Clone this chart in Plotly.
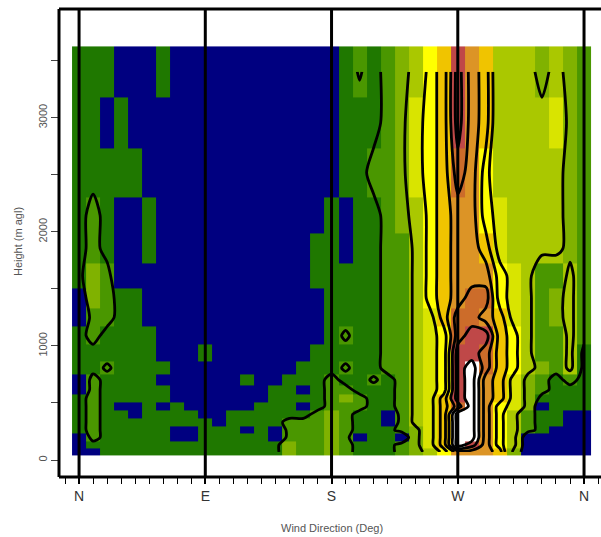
import plotly.graph_objects as go

# ---- data -------------------------------------------------------------
directions = list(range(0, 361, 10))            # bin centres (deg)
height_edges = [3625, 3180, 2730, 2305, 1985, 1725, 1505, 1330, 1170, 1010,
                865, 750, 655, 575, 505, 435, 365, 295, 230, 165, 100, 40]  # top -> bottom
tick_dirs = [0, 90, 180, 270, 360]
tick_text = ["N", "E", "S", "W", "N"]
height_ticks = [0, 1000, 2000, 3000]

# frequency class per cell, rows listed top (highest) -> bottom
freq_class = [
    [1,1,1,0,0,0,1, 0,0,0,0,0,0,0,0,0,0,0,0, 1,1.6,1,2,3,4,6,7,10,8,7,4,4,4,3,4,3,2],
    [1,1,0,1,0,0,0, 0,0,0,0,0,0,0,0,0,0,0,0, 1,1,1,2,3,5,6,7,10,8,7,4,4,4,4,5,3,2],
    [1,1,1,1,1,0,0, 0,0,0,0,0,0,0,0,0,0,0,0, 1,1,2,2,3,5,6,7,9,8,6,4,4,4,4,4,3,2],
    [1,2,1,0,0,1,0, 0,0,0,0,0,0,0,0,0,0,0,1, 0,1,1,2,3,4,6,7,8,8,6,5,4,4,4,4,3,2],
    [1,2,1,0,0,1,0, 0,0,0,0,0,0,0,0,0,0,1,1, 0,1,1,2,2,4,6,7,8,8,7,5,4,4,4,4,3,2],
    [1,3,2,0,0,0,0, 0,0,0,0,0,0,0,0,0,0,1,1, 1,1,1,2,2,4,6,7,8,8,8,6,5,4,2,2,4,2],
    [0,3,2,1,1,0,0, 0,0,0,0,0,0,0,0,0,0,0,1, 1,1,1,2,2,4,6,7,8,9,9,6,5,4,2,3,4,2],
    [0,2,2,1,1,0,0, 0,0,0,0,0,0,0,0,0,0,0,1, 1,1,1,2,2,4,5,7,9,9,8,7,5,4,2,3,4,2],
    [1,2,1,1,1,1,0, 0,0,0,0,0,0,0,0,0,0,0,1, 1.7,1,1,2,2,4,5,6,9,10,10,7,6,4,2,2,4,2],
    [1,1,1,1,1,1,0, 0,0,1,0,0,0,0,0,0,0,1,1, 1,1,1,2,2,4,5,6,10,10,9,7,6,4,2,2,4,1],
    [1,1,1.7,1,1,1,1, 0,0,0,0,0,0,0,0,0,1,1,1, 1.7,1,1,2,2,4,5,6,10,11,9,7,6,4,3,2,4,1],
    [0,2,1,1,1,1,0, 0,0,0,0,0,1,0,0,1,1,1,2, 1,1,1.7,1,2,4,5,6,10,11,8,7,5,3,2,1,2,1],
    [0,2,1,1,1,1,1, 0,0,0,0,0,0,0,1,1,0,1,2, 2,1,1,1,2,4,5,6,10,11,8,7,5,3,2,1,1,1],
    [1,2,1,1,1,1,1, 0,0,0,0,0,0,0,1,1,1,1,2, 3,2,1,1,2,4,5,7,10,11,8,7,5,3,1,1,1,1],
    [1,2,1,0,0,1,0, 1,0,0,0,0,0,1,1,1,0,1,2, 2,2,1,1,2,4,5,7,9,11,8,6,5,3,0,1,1,1],
    [1,2,1,1,0,1,1, 1,1,0,0,1,1,1,1,1,1,2,3, 2,1,1,0,2,4,5,7,11,11,8,6,4,2,1,1,0,0],
    [1,2,1,1,1,1,1, 1,1,1,0,1,1,1,1,2,2,2,3, 2,1,1,0,2,4,5,7,11,11,8,6,4,2,1,1,0,0],
    [1,2,1,1,1,1,1, 0,0,1,1,1,0,1,0,2,2,2,3, 2,1,1,1,2,3,5,7,11,11,8,6,4,2,1,0,0,0],
    [0,2,1,1,1,1,1, 0,0,1,1,1,1,1,0,2,2,2,3, 2,0,1,1,0,3,5,7,11,11,8,6,4,0,0,0,0,0],
    [0,1,1,1,1,1,1, 1,1,1,1,1,1,1,1,3,2,2,3, 2,1,1,1,2,3,5,7,11,10,8,6,4,0,0,0,0,0],
    [0,0,1,1,1,1,1, 1,1,1,1,1,1,1,1,3,2,2,3, 2,1,1,1,2,3,4,6,8,8,8,7,3,0,0,0,0,0],
]

class_colors = ["#000080", "#1f7800", "#4a9700", "#80b200", "#aac800", "#d9e400",
                "#ffff00", "#f0c400", "#dc9426", "#cc6c2a", "#bf4848", "#ffffff"]
contour_levels = [1.5, 3.5, 5.5, 6.5, 7.5, 8.5, 9.5, 10.5]

# ---- build ------------------------------------------------------------
x_range = [-14.3, 372.1]
y_range = [-149, 3953]

z = freq_class[::-1]
y_edges = height_edges[::-1]
y_mid = [(y_edges[i] + y_edges[i + 1]) / 2 for i in range(len(y_edges) - 1)]
x_edges = [d - 5 for d in directions] + [directions[-1] + 5]

n = len(class_colors)
cscale = []
for k, c in enumerate(class_colors):
    cscale.append([k / n, c])
    cscale.append([(k + 1) / n, c])

fig = go.Figure()
# frame: left, top, bottom (the right side lies outside the picture)
fig.add_shape(type="line", xref="paper", yref="paper", x0=0, x1=0, y0=0, y1=1,
              line=dict(color="black", width=3))
fig.add_shape(type="line", xref="paper", yref="paper", x0=0, x1=1.02, y0=1, y1=1,
              line=dict(color="black", width=3))
fig.add_shape(type="line", xref="paper", yref="paper", x0=0, x1=1.02, y0=0, y1=0,
              line=dict(color="black", width=3))

fig.add_trace(go.Heatmap(x=x_edges, y=y_edges, z=z, colorscale=cscale,
                         zmin=-0.5, zmax=n - 0.5, showscale=False,
                         hoverinfo="skip"))
for lv in contour_levels:
    fig.add_trace(go.Contour(x=directions, y=y_mid, z=z,
                             contours=dict(coloring="lines", start=lv, end=lv, size=1),
                             line=dict(color="black", width=2.8, smoothing=0.8),
                             colorscale=[[0, "black"], [1, "black"]],
                             showscale=False, hoverinfo="skip"))
# compass-direction reference lines
for d in tick_dirs:
    fig.add_trace(go.Scatter(x=[d, d], y=y_range, mode="lines",
                             line=dict(color="black", width=3),
                             hoverinfo="skip", showlegend=False))

axis_font = dict(family="Liberation Sans, Arial, sans-serif", size=11, color="#555555")
fig.update_layout(
    width=601, height=537,
    margin=dict(l=59, r=0, t=9, b=60),
    paper_bgcolor="white", plot_bgcolor="white",
    showlegend=False,
    xaxis=dict(range=x_range, showgrid=False, zeroline=False,
               tickmode="array", tickvals=tick_dirs, ticktext=tick_text,
               ticks="outside", ticklen=6, tickwidth=1.5, tickcolor="black",
               tickfont=dict(family="Liberation Sans, Arial, sans-serif", size=14, color="#333333"),
               minor=dict(dtick=10, tick0=0, ticks="outside", ticklen=6, tickwidth=1.2,
                          tickcolor="black", showgrid=False),
               showline=False),
    yaxis=dict(range=y_range, showgrid=False, zeroline=False,
               tickmode="array", tickvals=height_ticks,
               ticks="outside", ticklen=7, tickwidth=1, tickcolor="#444444",
               tickangle=-90, tickfont=axis_font,
               minor=dict(dtick=500, tick0=0, ticks="outside", ticklen=7, tickwidth=1,
                          tickcolor="#444444", showgrid=False),
               showline=False),
    annotations=[
        dict(text="Wind Direction (Deg)", xref="x", x=180, yref="paper", y=-(528 - 477) / 468,
             showarrow=False, font=axis_font, yanchor="middle"),
        dict(text="Height (m agl)", xref="paper", x=-(59 - 10) / 542, yref="paper",
             y=(477 - 242) / 468, showarrow=False, font=axis_font, textangle=-90),
    ],
)
fig.write_html("out.html")
